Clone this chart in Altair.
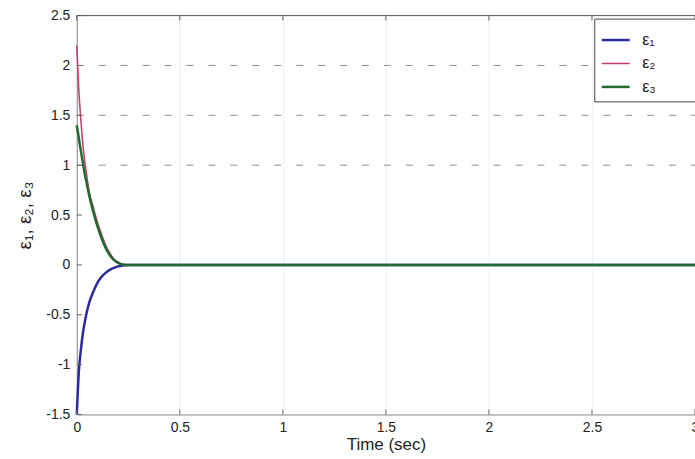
import altair as alt
import pandas as pd

# ---- data ----
t = [0, 0.01, 0.02, 0.03, 0.04, 0.05, 0.06, 0.08, 0.10, 0.12, 0.14, 0.16,
     0.18, 0.20, 0.22, 0.25, 0.30, 0.50, 1.00, 1.50, 2.00, 2.50, 3.00]
eps1 = [-1.5, -1.07, -0.85, -0.68, -0.56, -0.46, -0.38, -0.27, -0.18, -0.12,
        -0.08, -0.05, -0.03, -0.015, -0.005, 0, 0, 0, 0, 0, 0, 0, 0]
eps2 = [2.2, 1.75, 1.45, 1.2, 1.02, 0.87, 0.74, 0.58, 0.43, 0.31, 0.20,
        0.12, 0.06, 0.03, 0.01, 0, 0, 0, 0, 0, 0, 0, 0]
eps3 = [1.4, 1.27, 1.14, 1.02, 0.9, 0.8, 0.7, 0.53, 0.39, 0.27, 0.17, 0.10,
        0.05, 0.02, 0.005, 0, 0, 0, 0, 0, 0, 0, 0]

series_names = ["ε₁", "ε₂", "ε₃"]
series_colors = ["#2b2b9e", "#c23a6e", "#1f6b30"]
series_widths = [2.5, 1.5, 2.5]

x_ticks = [0, 0.5, 1, 1.5, 2, 2.5, 3]
y_ticks = [-1.5, -1, -0.5, 0, 0.5, 1, 1.5, 2, 2.5]
dashed_grid = [1, 1.5, 2]

rows = []
for name, vals in zip(series_names, [eps1, eps2, eps3]):
    for ti, v in zip(t, vals):
        rows.append({"t": ti, "v": v, "series": name})
df = pd.DataFrame(rows)

FONT = "Liberation Sans"
xs = alt.Scale(domain=[x_ticks[0], x_ticks[-1]], nice=False, zero=False)
ys = alt.Scale(domain=[y_ticks[0], y_ticks[-1]], nice=False, zero=False)
cs = alt.Scale(domain=series_names, range=series_colors)
ws = alt.Scale(type="ordinal", domain=series_names, range=series_widths)

x_axis = alt.Axis(values=x_ticks, title="Time (sec)", grid=True,
                  gridColor="#efefef", gridWidth=1, tickSize=0,
                  labelExpr="datum.value + ''", labelPadding=6, labelFlush=False,
                  labelOverlap=False,
                  titlePadding=2, titleFontSize=17, titleFontWeight="normal")
y_axis = alt.Axis(values=y_ticks, title="ε₁, ε₂, ε₃", grid=False, tickSize=0,
                  labelExpr="datum.value + ''", labelPadding=7, labelFlush=False,
                  labelOverlap=False,
                  titlePadding=11, titleFontSize=19, titleFontWeight="normal")

legend = alt.Legend(title="MMM", titleOrient="right", titleOpacity=0,
                    titleFontSize=14, titlePadding=0,
                    orient="none", legendX=519, legendY=3,
                    symbolType="stroke", symbolSize=784,
                    labelFontSize=16, labelOffset=11, rowPadding=0,
                    padding=6, fillColor="white", strokeColor="#444")

grid_df = pd.DataFrame({"y": dashed_grid, "x": x_ticks[0], "x2": x_ticks[-1]})
grid = alt.Chart(grid_df).mark_rule(color="#8f8f8f", strokeDash=[7, 15], strokeWidth=1).encode(
    x=alt.X("x:Q", scale=xs, axis=x_axis), x2="x2", y=alt.Y("y:Q", scale=ys, axis=y_axis))

layers = [grid]
for name in series_names:
    layers.append(
        alt.Chart(df).transform_filter(alt.datum.series == name)
        .mark_line(interpolate="monotone")
        .encode(x=alt.X("t:Q", scale=xs, axis=x_axis),
                y=alt.Y("v:Q", scale=ys, axis=y_axis),
                color=alt.Color("series:N", scale=cs, legend=legend),
                strokeWidth=alt.StrokeWidth("series:N", scale=ws, legend=legend))
    )

# inward ticks and top border
bt = pd.DataFrame({"x": x_ticks, "y": y_ticks[0], "y2": y_ticks[0] + 0.05})
tt = pd.DataFrame({"x": x_ticks, "y": y_ticks[-1], "y2": y_ticks[-1] - 0.05})
lt = pd.DataFrame({"y": y_ticks, "x": x_ticks[0], "x2": x_ticks[0] + 0.025})
for d in (bt, tt):
    layers.append(alt.Chart(d).mark_rule(color="#666").encode(
        x=alt.X("x:Q", scale=xs), y=alt.Y("y:Q", scale=ys), y2="y2"))
layers.append(alt.Chart(lt).mark_rule(color="#666").encode(
    x=alt.X("x:Q", scale=xs), x2="x2", y=alt.Y("y:Q", scale=ys)))
top = pd.DataFrame({"y": [y_ticks[-1]]})
layers.append(alt.Chart(top).mark_rule(color="#555").encode(y=alt.Y("y:Q", scale=ys)))

chart = alt.layer(*layers).properties(
    width=620, height=400, autosize="none",
    padding={"left": 77, "top": 15, "right": 0, "bottom": 44},
    background="white",
).configure_view(stroke=None).configure_axis(
    labelFont=FONT, titleFont=FONT, labelFontSize=14, labelColor="#222",
    titleColor="#222", domainColor="#888", domainWidth=1,
).configure_legend(labelFont=FONT, labelColor="#222")

chart.save("out.html", embed_options={"renderer": "svg", "actions": False})
